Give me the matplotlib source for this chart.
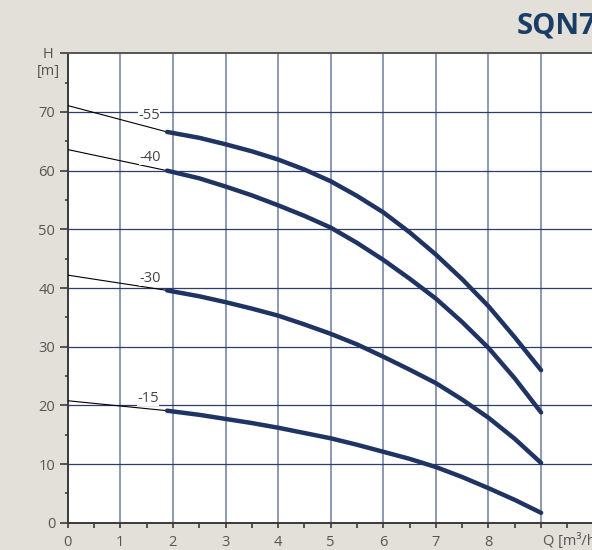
import numpy as np
import matplotlib
matplotlib.use('Agg')
import matplotlib.pyplot as plt
from matplotlib.ticker import MultipleLocator

# pump curves SQN7
q = [1.89, 2.5, 3, 3.5, 4, 4.5, 5, 5.5, 6, 6.5, 7, 7.5, 8, 8.5, 9]
h55 = [66.6, 65.6, 64.5, 63.3, 61.9, 60.2, 58.2, 55.7, 52.9, 49.5, 45.7, 41.5, 36.9, 31.6, 26.0]
h40 = [60.0, 58.7, 57.3, 55.8, 54.1, 52.3, 50.3, 47.7, 44.8, 41.6, 38.2, 34.2, 29.8, 24.6, 18.8]
h30 = [39.6, 38.6, 37.6, 36.5, 35.3, 33.8, 32.2, 30.4, 28.3, 26.1, 23.8, 21.0, 17.9, 14.3, 10.2]
h15 = [19.1, 18.4, 17.7, 17.0, 16.2, 15.3, 14.4, 13.3, 12.1, 10.9, 9.5, 7.8, 5.9, 3.9, 1.7]

# thin extension back to Q = 0
q_ext = [0, 1.89]
ext55 = [71.1, 66.6]
ext40 = [63.6, 60.0]
ext30 = [42.2, 39.6]
ext15 = [20.8, 19.1]

names = ['-55', '-40', '-30', '-15']
x_ticks = [0, 1, 2, 3, 4, 5, 6, 7, 8]
y_ticks = [0, 10, 20, 30, 40, 50, 60, 70]

W, H = 592, 550
fig = plt.figure(figsize=(W / 100, H / 100), dpi=100)
fig.patch.set_facecolor('#e3e0da')
plt.rcParams['font.family'] = ['Open Sans', 'DejaVu Sans']

# axes runs off the right edge of the sheet
x0, x1 = 67.7, 593.7
y_top, y_bot = 53.3, 522.8
ax = fig.add_axes([x0 / W, 1 - y_bot / H, (x1 - x0) / W, (y_bot - y_top) / H])
ax.set_facecolor('white')
ax.set_xlim(0, 10)
ax.set_ylim(0, 80)

navy = '#1f3462'
for i in range(1, 10):
    ax.axvline(i, color='#8390ae', lw=1.3, zorder=1)
for j in range(10, 80, 10):
    ax.axhline(j, color='#2c3d6b', lw=0.9, zorder=1)

curves = [h55, h40, h30, h15]
exts = [ext55, ext40, ext30, ext15]
label_pos = [(1.55, 69.4), (1.57, 62.3), (1.56, 41.7), (1.53, 21.2)]
for hh, ee, nm, (lx, ly) in zip(curves, exts, names, label_pos):
    ax.plot(q_ext, ee, color='black', lw=0.8, zorder=3, solid_capstyle='butt')
    ax.plot(q, hh, color=navy, lw=3.2, zorder=4, solid_capstyle='round')
    ax.text(lx, ly, nm, fontsize=10.5, color='#444444', ha='center', va='center', zorder=5,
            bbox=dict(facecolor='white', edgecolor='none', pad=0.2))

ax.spines['right'].set_visible(False)
for side in ['left', 'bottom', 'top']:
    ax.spines[side].set_color('#3a3a3a')
    ax.spines[side].set_linewidth(1.4)
ax.spines['top'].set_color('#555555')

ax.set_xticks(x_ticks)
ax.set_yticks(y_ticks + [80])
ax.xaxis.set_minor_locator(MultipleLocator(0.5))
ax.yaxis.set_minor_locator(MultipleLocator(5))
ax.set_xticklabels([str(v) for v in x_ticks])
ax.set_yticklabels([str(v) for v in y_ticks] + [''])
ax.tick_params(axis='x', which='both', direction='out', length=3.5, width=1.2, color='#3a3a3a',
               labelsize=10.5, labelcolor='#555555', pad=5.5)
ax.tick_params(axis='y', which='major', direction='out', length=6, width=1.2, color='#3a3a3a',
               labelsize=10.5, labelcolor='#555555', pad=3)
ax.tick_params(axis='y', which='minor', direction='out', length=2.5, width=1.2, color='#3a3a3a')

# axis unit labels sit where the last ticks would be
fig.text(48 / W, 1 - 55 / H, 'H', fontsize=10.5, color='#555555', ha='center', va='center')
fig.text(48 / W, 1 - 71 / H, '[m]', fontsize=10.5, color='#555555', ha='center', va='center')
fig.text(543 / W, 1 - 541 / H, 'Q [m³/h]', fontsize=10.5, color='#555555', ha='left', va='center')

fig.text(517 / W, 1 - 26 / H, 'SQN7', fontsize=21, fontweight='bold', color='#1a3d66',
         ha='left', va='center')

plt.savefig('out.png', dpi=100, facecolor=fig.get_facecolor())
plt.close()
